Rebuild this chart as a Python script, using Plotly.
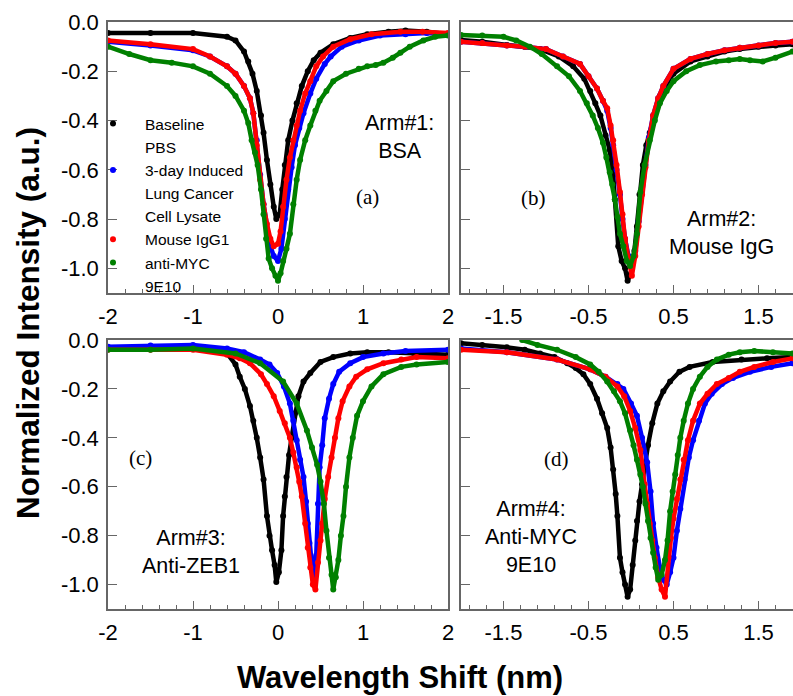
import plotly.graph_objects as go

# ---------------- data ----------------
# Panel (a) Arm#1: BSA
a_black_x = [-2.0,-1.5,-1.0,-0.6,-0.5,-0.4,-0.35,-0.3,-0.25,-0.2,-0.17,-0.13,-0.09,-0.05,-0.02,0.02,0.05,0.08,0.12,0.17,0.22,0.28,0.35,0.42,0.5,0.65,0.85,1.05,1.3,1.5,1.75,2.0]
a_black_y = [-0.045,-0.045,-0.045,-0.06,-0.075,-0.12,-0.16,-0.21,-0.28,-0.38,-0.45,-0.56,-0.66,-0.75,-0.80,-0.78,-0.68,-0.58,-0.48,-0.40,-0.33,-0.26,-0.2,-0.155,-0.125,-0.09,-0.065,-0.05,-0.04,-0.035,-0.04,-0.05]
a_blue_x = [-2.0,-1.5,-1.0,-0.8,-0.6,-0.5,-0.4,-0.33,-0.29,-0.25,-0.21,-0.17,-0.13,-0.09,-0.05,0.0,0.04,0.08,0.12,0.16,0.2,0.25,0.3,0.38,0.45,0.55,0.62,0.75,0.95,1.2,1.5,1.75,2.0]
a_blue_y = [-0.08,-0.095,-0.115,-0.14,-0.18,-0.21,-0.26,-0.31,-0.37,-0.48,-0.62,-0.74,-0.84,-0.91,-0.95,-0.97,-0.92,-0.80,-0.68,-0.59,-0.50,-0.43,-0.37,-0.29,-0.23,-0.17,-0.14,-0.10,-0.075,-0.055,-0.05,-0.045,-0.05]
a_red_x = [-2.0,-1.5,-1.0,-0.8,-0.6,-0.5,-0.4,-0.33,-0.29,-0.25,-0.21,-0.17,-0.13,-0.09,-0.05,0.0,0.03,0.06,0.1,0.14,0.18,0.22,0.26,0.32,0.38,0.45,0.53,0.65,0.85,1.1,1.44,1.7,2.0]
a_red_y = [-0.075,-0.09,-0.11,-0.14,-0.18,-0.21,-0.26,-0.31,-0.37,-0.50,-0.64,-0.74,-0.82,-0.88,-0.91,-0.90,-0.85,-0.75,-0.64,-0.55,-0.48,-0.42,-0.36,-0.29,-0.24,-0.18,-0.14,-0.10,-0.07,-0.05,-0.04,-0.04,-0.045]
a_green_x = [-2.0,-1.75,-1.5,-1.25,-1.0,-0.8,-0.6,-0.5,-0.4,-0.35,-0.31,-0.27,-0.24,-0.2,-0.17,-0.14,-0.11,-0.07,-0.03,0.0,0.03,0.06,0.1,0.14,0.18,0.22,0.26,0.32,0.38,0.44,0.49,0.57,0.65,0.8,0.95,1.05,1.15,1.24,1.35,1.44,1.55,1.71,1.85,2.0]
a_green_y = [-0.10,-0.13,-0.155,-0.165,-0.18,-0.21,-0.26,-0.30,-0.36,-0.41,-0.48,-0.53,-0.58,-0.68,-0.78,-0.88,-0.96,-1.0,-1.03,-1.05,-1.02,-0.97,-0.92,-0.86,-0.74,-0.64,-0.56,-0.48,-0.42,-0.36,-0.32,-0.28,-0.24,-0.21,-0.19,-0.18,-0.175,-0.165,-0.145,-0.125,-0.10,-0.075,-0.06,-0.055]

# Panel (b) Arm#2: Mouse IgG
b_black_x = [-2.0,-1.75,-1.46,-1.25,-1.07,-0.85,-0.68,-0.55,-0.48,-0.42,-0.36,-0.3,-0.25,-0.21,-0.19,-0.15,-0.11,-0.07,-0.04,0.0,0.04,0.07,0.1,0.14,0.18,0.22,0.28,0.34,0.42,0.5,0.7,0.9,1.1,1.28,1.5,1.7,1.9]
b_black_y = [-0.073,-0.08,-0.093,-0.10,-0.11,-0.14,-0.18,-0.23,-0.28,-0.33,-0.38,-0.46,-0.52,-0.62,-0.72,-0.91,-0.97,-1.0,-1.05,-1.02,-0.93,-0.83,-0.70,-0.58,-0.50,-0.45,-0.37,-0.30,-0.25,-0.21,-0.16,-0.14,-0.12,-0.11,-0.10,-0.095,-0.09]
b_blue_x = [-2.0,-1.75,-1.46,-1.25,-1.0,-0.8,-0.6,-0.5,-0.4,-0.33,-0.28,-0.24,-0.21,-0.17,-0.13,-0.1,-0.07,-0.03,0.01,0.05,0.09,0.13,0.17,0.21,0.26,0.32,0.38,0.5,0.7,0.9,1.1,1.28,1.5,1.7,1.9]
b_blue_y = [-0.08,-0.085,-0.095,-0.10,-0.11,-0.14,-0.17,-0.22,-0.27,-0.32,-0.36,-0.43,-0.50,-0.60,-0.70,-0.80,-0.88,-0.95,-1.0,-0.93,-0.81,-0.69,-0.58,-0.47,-0.38,-0.31,-0.26,-0.19,-0.15,-0.13,-0.115,-0.105,-0.095,-0.085,-0.08]
b_red_x = [-2.0,-1.75,-1.46,-1.25,-1.0,-0.8,-0.6,-0.5,-0.4,-0.33,-0.28,-0.24,-0.21,-0.17,-0.13,-0.1,-0.07,-0.03,0.01,0.05,0.09,0.13,0.17,0.21,0.26,0.32,0.38,0.5,0.7,0.9,1.1,1.28,1.5,1.7,1.9]
b_red_y = [-0.08,-0.085,-0.095,-0.10,-0.11,-0.14,-0.17,-0.22,-0.27,-0.32,-0.35,-0.42,-0.48,-0.58,-0.69,-0.78,-0.88,-0.96,-1.03,-0.95,-0.83,-0.70,-0.59,-0.48,-0.38,-0.31,-0.26,-0.19,-0.15,-0.13,-0.115,-0.105,-0.095,-0.085,-0.08]
b_green_x = [-2.0,-1.75,-1.5,-1.35,-1.19,-1.05,-0.87,-0.73,-0.6,-0.52,-0.45,-0.39,-0.33,-0.29,-0.25,-0.22,-0.19,-0.16,-0.13,-0.09,-0.05,-0.01,0.03,0.07,0.11,0.16,0.22,0.28,0.34,0.42,0.5,0.65,0.81,1.0,1.15,1.28,1.4,1.55,1.7,1.9]
b_green_y = [-0.053,-0.055,-0.06,-0.075,-0.10,-0.13,-0.18,-0.22,-0.28,-0.33,-0.38,-0.43,-0.49,-0.55,-0.61,-0.66,-0.72,-0.79,-0.86,-0.91,-0.97,-0.99,-0.95,-0.86,-0.69,-0.58,-0.48,-0.40,-0.33,-0.28,-0.24,-0.20,-0.175,-0.16,-0.155,-0.15,-0.155,-0.16,-0.145,-0.12]

# Panel (c) Arm#3: Anti-ZEB1
c_black_x = [-2.0,-1.5,-1.0,-0.8,-0.6,-0.5,-0.45,-0.39,-0.33,-0.29,-0.25,-0.21,-0.17,-0.13,-0.1,-0.07,-0.04,-0.02,0.01,0.04,0.06,0.08,0.1,0.13,0.16,0.2,0.24,0.3,0.38,0.5,0.65,0.85,1.05,1.3,1.6,2.0]
c_black_y = [-0.035,-0.03,-0.03,-0.04,-0.055,-0.10,-0.15,-0.20,-0.27,-0.33,-0.40,-0.48,-0.57,-0.72,-0.80,-0.86,-0.92,-0.99,-0.95,-0.86,-0.72,-0.64,-0.56,-0.47,-0.40,-0.30,-0.23,-0.17,-0.135,-0.09,-0.07,-0.055,-0.05,-0.05,-0.055,-0.06]
c_blue_x = [-2.0,-1.5,-1.0,-0.6,-0.4,-0.21,-0.1,-0.01,0.07,0.14,0.18,0.22,0.26,0.3,0.33,0.35,0.37,0.39,0.41,0.43,0.45,0.47,0.49,0.52,0.55,0.6,0.65,0.72,0.85,1.0,1.24,1.5,2.0]
c_blue_y = [-0.028,-0.022,-0.02,-0.035,-0.05,-0.08,-0.10,-0.135,-0.19,-0.26,-0.33,-0.41,-0.49,-0.56,-0.66,-0.75,-0.83,-0.89,-0.95,-0.97,-0.88,-0.67,-0.52,-0.43,-0.32,-0.24,-0.18,-0.13,-0.095,-0.07,-0.055,-0.045,-0.04]
c_red_x = [-2.0,-1.5,-1.0,-0.6,-0.45,-0.33,-0.2,-0.13,-0.05,0.02,0.08,0.14,0.18,0.22,0.25,0.28,0.32,0.35,0.38,0.41,0.44,0.47,0.5,0.52,0.55,0.59,0.63,0.67,0.71,0.76,0.84,0.92,1.05,1.24,1.45,1.63,2.0]
c_red_y = [-0.04,-0.04,-0.04,-0.06,-0.075,-0.095,-0.14,-0.18,-0.23,-0.29,-0.34,-0.40,-0.46,-0.52,-0.58,-0.64,-0.75,-0.85,-0.93,-1.0,-1.02,-0.91,-0.82,-0.75,-0.65,-0.56,-0.48,-0.40,-0.32,-0.25,-0.19,-0.15,-0.12,-0.095,-0.08,-0.07,-0.075]
c_green_x = [-2.0,-1.5,-1.0,-0.5,-0.21,0.06,0.22,0.34,0.4,0.46,0.5,0.54,0.57,0.6,0.63,0.65,0.68,0.71,0.74,0.77,0.8,0.84,0.88,0.93,1.0,1.1,1.24,1.45,1.63,2.0]
c_green_y = [-0.04,-0.04,-0.035,-0.055,-0.095,-0.17,-0.26,-0.37,-0.44,-0.51,-0.58,-0.67,-0.78,-0.89,-0.96,-1.02,-0.97,-0.90,-0.80,-0.72,-0.60,-0.48,-0.40,-0.31,-0.25,-0.19,-0.14,-0.11,-0.10,-0.09]

# Panel (d) Arm#4: Anti-MYC 9E10
d_black_x = [-2.0,-1.75,-1.46,-1.25,-1.07,-0.9,-0.75,-0.65,-0.56,-0.48,-0.4,-0.34,-0.28,-0.24,-0.21,-0.18,-0.16,-0.13,-0.1,-0.07,-0.04,-0.01,0.02,0.05,0.07,0.1,0.13,0.16,0.2,0.25,0.31,0.38,0.46,0.57,0.69,0.96,1.3,1.6,1.9]
d_black_y = [-0.013,-0.02,-0.03,-0.04,-0.055,-0.07,-0.095,-0.115,-0.14,-0.18,-0.24,-0.30,-0.36,-0.44,-0.53,-0.63,-0.72,-0.89,-0.95,-1.0,-1.05,-1.02,-0.92,-0.82,-0.74,-0.66,-0.59,-0.51,-0.43,-0.34,-0.26,-0.21,-0.17,-0.13,-0.11,-0.09,-0.08,-0.075,-0.07]
d_blue_x = [-2.0,-1.46,-0.87,-0.48,-0.3,-0.16,-0.09,0.0,0.07,0.13,0.19,0.23,0.26,0.3,0.34,0.38,0.42,0.46,0.5,0.54,0.58,0.63,0.68,0.73,0.8,0.87,0.95,1.07,1.2,1.4,1.65,1.9]
d_blue_y = [-0.035,-0.05,-0.08,-0.12,-0.15,-0.18,-0.2,-0.26,-0.31,-0.40,-0.50,-0.62,-0.75,-0.85,-0.93,-0.98,-1.0,-0.95,-0.89,-0.78,-0.69,-0.57,-0.48,-0.41,-0.33,-0.26,-0.22,-0.18,-0.155,-0.13,-0.11,-0.095]
d_red_x = [-2.0,-1.46,-0.87,-0.48,-0.3,-0.16,-0.08,-0.01,0.05,0.11,0.16,0.19,0.22,0.25,0.28,0.32,0.36,0.4,0.44,0.47,0.5,0.54,0.58,0.62,0.67,0.73,0.81,0.9,1.01,1.15,1.28,1.45,1.67,1.9]
d_red_y = [-0.04,-0.05,-0.08,-0.12,-0.15,-0.19,-0.23,-0.29,-0.36,-0.45,-0.59,-0.67,-0.75,-0.82,-0.89,-0.97,-1.02,-1.05,-0.89,-0.81,-0.73,-0.65,-0.57,-0.49,-0.41,-0.33,-0.26,-0.22,-0.18,-0.155,-0.13,-0.11,-0.09,-0.075]
d_green_x = [-1.28,-1.1,-0.87,-0.65,-0.48,-0.38,-0.28,-0.2,-0.13,-0.07,-0.01,0.03,0.07,0.11,0.14,0.17,0.2,0.23,0.26,0.29,0.32,0.36,0.4,0.43,0.46,0.49,0.52,0.55,0.58,0.62,0.67,0.73,0.81,0.9,1.01,1.15,1.28,1.45,1.67,1.9]
d_green_y = [0.0,-0.02,-0.04,-0.07,-0.10,-0.13,-0.17,-0.21,-0.25,-0.30,-0.37,-0.43,-0.49,-0.55,-0.60,-0.67,-0.74,-0.81,-0.87,-0.93,-0.98,-0.96,-0.90,-0.82,-0.70,-0.62,-0.55,-0.47,-0.40,-0.33,-0.26,-0.20,-0.15,-0.11,-0.08,-0.06,-0.05,-0.045,-0.05,-0.055]

# series labels (legend) and colours
legend_labels = ["Baseline", "PBS", "3-day Induced", "Lung Cancer", "Cell Lysate", "Mouse IgG1", "anti-MYC", "9E10"]
legend_colors = ["black", None, "blue", None, None, "red", "green", None]
series_colors = {"black": "#000000", "blue": "#0000ff", "red": "#ff0000", "green": "#008000"}

# tick labels
x_tick_vals_left = [-2, -1, 0, 1, 2]
x_tick_text_left = ["-2", "-1", "0", "1", "2"]
x_tick_vals_right = [-1.5, -0.5, 0.5, 1.5]
x_tick_text_right = ["-1.5", "-0.5", "0.5", "1.5"]
y_tick_vals = [0.0, -0.2, -0.4, -0.6, -0.8, -1.0]
y_tick_text = ["0.0", "-0.2", "-0.4", "-0.6", "-0.8", "-1.0"]

panel_labels = ["(a)", "(b)", "(c)", "(d)"]
arm_labels = ["Arm#1:<br>BSA", "Arm#2:<br>Mouse IgG", "Arm#3:<br>Anti-ZEB1", "Arm#4:<br>Anti-MYC<br>9E10"]
x_title = "Wavelength Shift (nm)"
y_title = "Normalized Intensity (a.u.)"

# ---------------- layout helpers ----------------
W, H = 793, 696
def px(x):
    return x / W
def py(y):
    return 1 - y / H

FONT = "Liberation Sans, Arial, sans-serif"
SERIF = "Liberation Serif, Times New Roman, serif"
FRAME = "#666666"

panels = {
    "a": dict(x=[a_black_x, a_blue_x, a_red_x, a_green_x], y=[a_black_y, a_blue_y, a_red_y, a_green_y], ax="x", ay="y"),
    "b": dict(x=[b_black_x, b_blue_x, b_red_x, b_green_x], y=[b_black_y, b_blue_y, b_red_y, b_green_y], ax="x2", ay="y2"),
    "c": dict(x=[c_black_x, c_blue_x, c_red_x, c_green_x], y=[c_black_y, c_blue_y, c_red_y, c_green_y], ax="x3", ay="y3"),
    "d": dict(x=[d_black_x, d_blue_x, d_red_x, d_green_x], y=[d_black_y, d_blue_y, d_red_y, d_green_y], ax="x4", ay="y4"),
}
order = ["black", "blue", "red", "green"]

fig = go.Figure()
for key, p in panels.items():
    for i, c in enumerate(order):
        fig.add_trace(go.Scatter(
            x=p["x"][i], y=p["y"][i], xaxis=p["ax"], yaxis=p["ay"],
            mode="lines+markers", showlegend=False, hoverinfo="skip",
            line=dict(color=series_colors[c], width=4.5),
            marker=dict(color=series_colors[c], size=6),
        ))

# legend entries (marker-only)
for rank, (lab, col) in enumerate(zip(legend_labels, legend_colors)):
    fig.add_trace(go.Scatter(
        x=[None], y=[None], xaxis="x", yaxis="y", mode="markers", name=lab,
        legendrank=rank + 1,
        marker=dict(color=series_colors[col] if col else "rgba(0,0,0,0)", size=6),
    ))

# domains (pixel boxes)
LX = [px(108), px(448)]
RX = [px(461), 1.0]
TY = [py(293), py(22)]
BY = [py(609), py(340)]
right_max = 2.0 - (801 - 793) / 85.0

def xaxis(domain, anchor, rng, vals, text, mirror, minor0):
    return dict(domain=domain, anchor=anchor, range=rng, showgrid=False, zeroline=False,
                automargin=False,
                showline=True, linecolor=FRAME, linewidth=1.5, mirror=mirror,
                ticks="inside", ticklen=8, tickwidth=1.2, tickcolor=FRAME,
                tickmode="array", tickvals=vals, ticktext=text, ticklabelstandoff=3,
                tickfont=dict(family=FONT, size=22, color="black"),
                minor=dict(ticks="inside", ticklen=4, tickwidth=1.2, tickcolor=FRAME,
                           tick0=minor0, dtick=0.2, showgrid=False))

def yaxis(domain, anchor, labels, mirror):
    return dict(domain=domain, anchor=anchor, range=[-1.1, 0.0], showgrid=False, zeroline=False,
                automargin=False,
                showline=True, linecolor=FRAME, linewidth=1.5, mirror=mirror,
                ticks="inside", ticklen=9, tickwidth=1.2, tickcolor=FRAME,
                tickmode="array", tickvals=y_tick_vals, ticktext=y_tick_text,
                showticklabels=labels, ticklabelstandoff=3,
                tickfont=dict(family=FONT, size=22, color="black"))

fig.update_layout(
    width=W, height=H, margin=dict(l=0, r=0, t=0, b=0, autoexpand=False),
    paper_bgcolor="white", plot_bgcolor="white",
    xaxis=xaxis(LX, "y", [-2, 2], x_tick_vals_left, x_tick_text_left, True, 0),
    yaxis=yaxis(TY, "x", True, True),
    xaxis2=xaxis(RX, "y2", [-2, right_max], x_tick_vals_right, x_tick_text_right, True, -1.9),
    yaxis2=yaxis(TY, "x2", False, False),
    xaxis3=xaxis(LX, "y3", [-2, 2], x_tick_vals_left, x_tick_text_left, True, 0),
    yaxis3=yaxis(BY, "x3", True, True),
    xaxis4=xaxis(RX, "y4", [-2, right_max], x_tick_vals_right, x_tick_text_right, True, -1.9),
    yaxis4=yaxis(BY, "x4", False, False),
    showlegend=True,
    legend=dict(x=px(81), y=py(107), xanchor="left", yanchor="top",
                bgcolor="rgba(0,0,0,0)", borderwidth=0, itemwidth=54,
                traceorder="normal", tracegroupgap=0,
                font=dict(family=FONT, size=15.5, color="black")),
)

annots = []
# panel letters
for lab, (x, y) in zip(panel_labels, [(367, 197), (533, 198), (140, 458), (556, 459)]):
    annots.append(dict(text=lab, x=px(x), y=py(y), xref="paper", yref="paper", showarrow=False,
                       xanchor="center", yanchor="middle", font=dict(family=SERIF, size=21, color="black")))
# arm labels
for lab, (x, y) in zip(arm_labels, [(399, 137), (721, 233), (191, 552), (531, 537)]):
    annots.append(dict(text=lab, x=px(x), y=py(y), xref="paper", yref="paper", showarrow=False,
                       xanchor="center", yanchor="middle", align="center",
                       font=dict(family=FONT, size=21.5, color="black")))
# axis titles
annots.append(dict(text="<b>" + x_title + "</b>", x=px(400), y=py(677), xref="paper", yref="paper",
                   showarrow=False, xanchor="center", yanchor="middle",
                   font=dict(family=FONT, size=31, color="black")))
annots.append(dict(text="<b>" + y_title + "</b>", x=px(28), y=py(323), xref="paper", yref="paper",
                   showarrow=False, xanchor="center", yanchor="middle", textangle=-90,
                   font=dict(family=FONT, size=31.5, color="black")))
fig.update_layout(annotations=annots)

fig.write_html("out.html", config={"displayModeBar": False},
               post_script="document.body.style.margin='0';document.body.style.overflow='hidden';")
